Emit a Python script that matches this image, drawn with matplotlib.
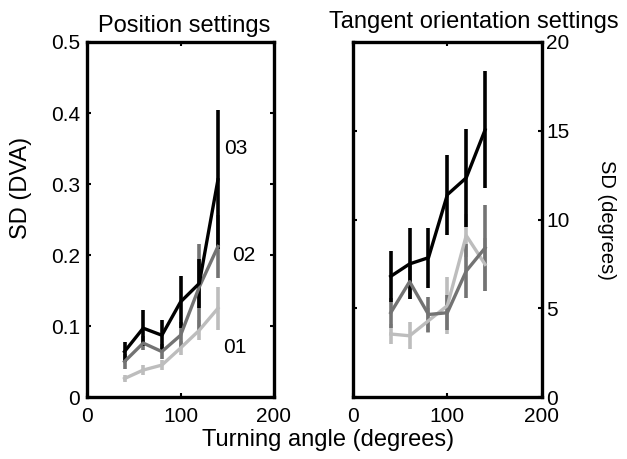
import numpy as np
import matplotlib
matplotlib.use("Agg")
import matplotlib.pyplot as plt

plt.rcParams['font.family'] = ['Liberation Sans', 'DejaVu Sans']

# turning angles (degrees)
angles = [40, 60, 80, 100, 120, 140]

# Position settings, SD (DVA)
pos_03 = [0.064, 0.097, 0.087, 0.134, 0.160, 0.306]
pos_03_err = [0.014, 0.025, 0.022, 0.037, 0.035, 0.098]
pos_02 = [0.050, 0.076, 0.064, 0.087, 0.155, 0.212]
pos_02_err = [0.010, 0.010, 0.010, 0.018, 0.060, 0.045]
pos_01 = [0.026, 0.038, 0.045, 0.069, 0.094, 0.125]
pos_01_err = [0.005, 0.007, 0.007, 0.010, 0.014, 0.030]

# Tangent orientation settings, SD (degrees)
tan_03 = [6.8, 7.5, 7.85, 11.4, 12.35, 15.05]
tan_03_err = [1.45, 2.0, 1.7, 2.25, 2.75, 3.3]
tan_02 = [4.75, 6.5, 4.65, 4.75, 7.1, 8.4]
tan_02_err = [0.85, 1.0, 1.0, 1.0, 1.5, 2.4]
tan_01 = [3.55, 3.45, 4.3, 5.15, 9.1, 7.47]
tan_01_err = [0.55, 0.75, 0.7, 1.6, 1.2, 1.5]

colors = {'01': '#bdbdbd', '02': '#737373', '03': '#000000'}

fig = plt.figure(figsize=(6.27, 4.59), dpi=100)
ax1 = fig.add_axes([0.139, 0.135, 0.298, 0.7735])
ax2 = fig.add_axes([0.563, 0.135, 0.301, 0.7735])

for ax, data in [(ax1, [(pos_01, pos_01_err, '01'), (pos_02, pos_02_err, '02'), (pos_03, pos_03_err, '03')]),
                 (ax2, [(tan_01, tan_01_err, '01'), (tan_02, tan_02_err, '02'), (tan_03, tan_03_err, '03')])]:
    for vals, errs, key in data:
        ax.errorbar(angles, vals, yerr=errs, color=colors[key], lw=2.4,
                    elinewidth=2.6, capsize=0)
    ax.set_xlim(0, 200)
    ax.set_xticks([0, 100, 200])
    for s in ax.spines.values():
        s.set_linewidth(2.4)
    ax.tick_params(direction='in', length=3, width=1.5, labelsize=15,
                   top=True, right=True, left=True, bottom=True, pad=5)
    ax.tick_params(axis='x', pad=7)

ax1.set_ylim(0, 0.5)
ax1.set_yticks([0, 0.1, 0.2, 0.3, 0.4, 0.5])
ax1.set_yticklabels(['0', '0.1', '0.2', '0.3', '0.4', '0.5'])
ax1.set_ylabel('SD (DVA)', fontsize=17, va='center')
ax1.yaxis.set_label_coords(-0.353, 0.59)
ax1.set_title('Position settings', fontsize=17, pad=7, x=0.519)
ax1.text(147, 0.35, '03', fontsize=15, va='center')
ax1.text(155, 0.20, '02', fontsize=15, va='center')
ax1.text(146, 0.07, '01', fontsize=15, va='center')

ax2.set_ylim(0, 20)
ax2.set_yticks([0, 5, 10, 15, 20])
ax2.tick_params(axis='y', labelleft=False, labelright=True, pad=3)
ax2.yaxis.set_label_position('right')
ax2.set_ylabel('SD (degrees)', fontsize=14.5, rotation=270, va='center')
ax2.yaxis.set_label_coords(1.344, 0.5)
ax2.set_title('Tangent orientation settings', fontsize=17, pad=10, x=0.64)

fig.text(0.523, 0.041, 'Turning angle (degrees)', fontsize=17, ha='center', va='center')

fig.savefig('out.png', dpi=100)
